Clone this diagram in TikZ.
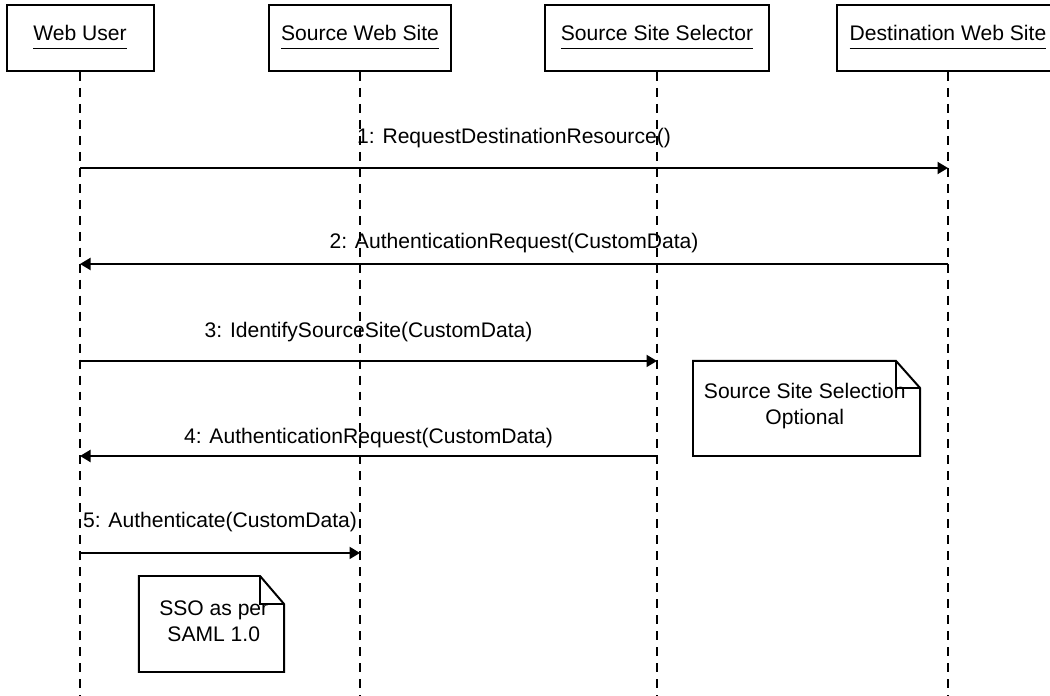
\documentclass[tikz,border=0pt]{standalone}
\usepackage{fontspec}
\setmainfont{Liberation Sans}
\usetikzlibrary{arrows.meta, positioning}

% Objektname unterstrichen
\newcommand{\objname}[1]{\underline{#1\vphantom{g}}}

\begin{document}
\begin{tikzpicture}[>={Triangle[length=1.4mm, width=1.6mm]}, font=\fontsize{8}{9.8}\selectfont,
		line width=0.75pt,
		lifebox/.style={draw, minimum height=0.88cm, inner sep=0pt},
		lifeline/.style={dash pattern=on 0.12cm off 0.093cm},
		msg/.style={->},
		msglabel/.style={inner sep=0pt},
		notetext/.style={align=center, inner sep=0pt}]
				
				\useasboundingbox (0,0) rectangle (14,-9.28);
				
				% --- Objekte ---
				\node[lifebox, minimum width=1.96cm] (user) at (1.067,-0.507) {\objname{Web User}};
				\node[lifebox, minimum width=2.43cm] (source) at (4.8,-0.507) {\objname{Source Web Site}};
				\node[lifebox, minimum width=2.99cm] (selector) at (8.76,-0.507) {\objname{Source Site Selector}};
				\node[lifebox, minimum width=2.96cm] (dest) at (12.64,-0.507) {\objname{Destination Web Site}};
				
				% --- Lebenslinien ---
				\foreach \o in {user, source, selector, dest}{
					\coordinate (\o-end) at (\o.south |- 0,-9.3);
					\draw[lifeline] (\o.south) -- (\o-end);
				}
				
				% --- Nachrichten ---
				% 1: Web User -> Destination
				\coordinate (m1a) at (user |- 0,-2.24);
				\coordinate (m1b) at (dest |- 0,-2.24);
				\draw[msg] (m1a) -- node[msglabel, midway, yshift=0.4cm] (l1) {1: RequestDestinationResource()} (m1b);
				
				% 2: Destination -> Web User
				\coordinate (m2a) at (dest |- 0,-3.52);
				\coordinate (m2b) at (user |- 0,-3.52);
				\draw[msg] (m2a) -- node[msglabel, midway, yshift=0.28cm] (l2) {2: AuthenticationRequest(CustomData)} (m2b);
				
				% 3: Web User -> Selector
				\coordinate (m3a) at (user |- 0,-4.813);
				\coordinate (m3b) at (selector |- 0,-4.813);
				\draw[msg] (m3a) -- node[msglabel, midway, yshift=0.387cm] (l3) {3: IdentifySourceSite(CustomData)} (m3b);
				
				% 4: Selector -> Web User
				\coordinate (m4a) at (selector |- 0,-6.08);
				\coordinate (m4b) at (user |- 0,-6.08);
				\draw[msg] (m4a) -- node[msglabel, midway, yshift=0.24cm] (l4) {4: AuthenticationRequest(CustomData)} (m4b);
				
				% 5: Web User -> Source
				\coordinate (m5a) at (user |- 0,-7.373);
				\coordinate (m5b) at (source |- 0,-7.373);
				\draw[msg] (m5a) -- node[msglabel, midway, yshift=0.413cm] (l5) {5: Authenticate(CustomData)} (m5b);
				
				% --- Notizen (mit Eselsohr) ---
				\draw (9.24,-4.813) -- (11.947,-4.813) -- (12.267,-5.173) -- (12.267,-6.08) -- (9.24,-6.08) -- cycle;
				\draw (11.947,-4.813) -- (11.947,-5.173) -- (12.267,-5.173);
				\node[notetext] (note1) at (10.73,-5.41) {Source Site Selection\\Optional};
				
				\draw (1.853,-7.68) -- (3.467,-7.68) -- (3.787,-8.053) -- (3.787,-8.96) -- (1.853,-8.96) -- cycle;
				\draw (3.467,-7.68) -- (3.467,-8.053) -- (3.787,-8.053);
				\node[notetext] (note2) at (2.85,-8.28) {SSO as per\\SAML 1.0};
				
			\end{tikzpicture}
\end{document}
